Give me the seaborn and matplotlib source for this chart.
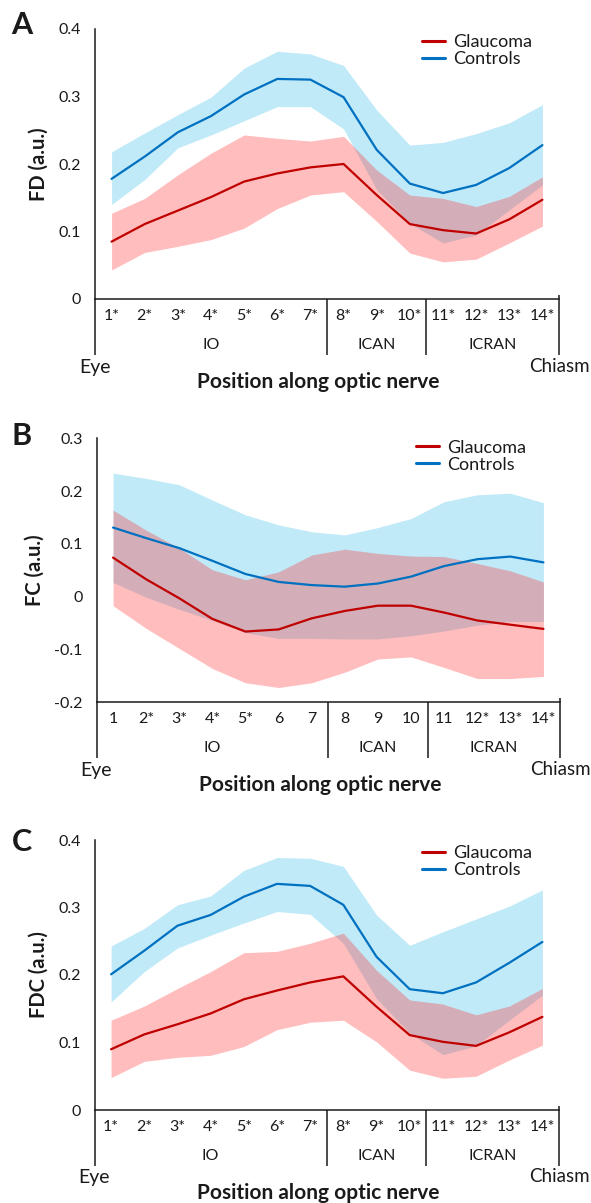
import numpy as np
import pandas as pd
import matplotlib
matplotlib.use("Agg")
import matplotlib.pyplot as plt
import matplotlib.transforms as mtransforms
import seaborn as sns

# ---------------- data ----------------
positions = list(range(1, 15))

# Panel A: FD
fd_glau_mean = [0.085, 0.111, 0.131, 0.151, 0.174, 0.186, 0.195, 0.200, 0.154, 0.111, 0.102, 0.097, 0.118, 0.147]
fd_glau_upper = [0.127, 0.149, 0.184, 0.216, 0.243, 0.238, 0.234, 0.241, 0.191, 0.154, 0.149, 0.137, 0.152, 0.181]
fd_glau_lower = [0.043, 0.069, 0.078, 0.088, 0.105, 0.134, 0.154, 0.159, 0.115, 0.068, 0.055, 0.059, 0.083, 0.108]
fd_ctrl_mean = [0.178, 0.211, 0.247, 0.271, 0.303, 0.326, 0.325, 0.299, 0.221, 0.171, 0.157, 0.169, 0.194, 0.228]
fd_ctrl_upper = [0.218, 0.246, 0.273, 0.299, 0.342, 0.367, 0.363, 0.346, 0.280, 0.228, 0.232, 0.245, 0.261, 0.288]
fd_ctrl_lower = [0.140, 0.177, 0.224, 0.243, 0.264, 0.285, 0.285, 0.252, 0.162, 0.112, 0.083, 0.095, 0.132, 0.169]

# Panel B: FC
fc_glau_mean = [0.074, 0.033, -0.003, -0.042, -0.066, -0.062, -0.041, -0.027, -0.017, -0.017, -0.030, -0.045, -0.053, -0.061]
fc_glau_upper = [0.164, 0.126, 0.092, 0.051, 0.032, 0.047, 0.079, 0.090, 0.082, 0.077, 0.076, 0.063, 0.049, 0.028]
fc_glau_lower = [-0.017, -0.060, -0.098, -0.136, -0.163, -0.172, -0.163, -0.143, -0.118, -0.114, -0.134, -0.155, -0.155, -0.151]
fc_ctrl_mean = [0.131, 0.111, 0.092, 0.068, 0.043, 0.028, 0.022, 0.019, 0.025, 0.038, 0.058, 0.071, 0.076, 0.065]
fc_ctrl_upper = [0.234, 0.224, 0.212, 0.183, 0.155, 0.136, 0.123, 0.117, 0.131, 0.148, 0.180, 0.193, 0.196, 0.178]
fc_ctrl_lower = [0.027, -0.001, -0.024, -0.045, -0.068, -0.079, -0.079, -0.080, -0.080, -0.074, -0.065, -0.054, -0.047, -0.047]

# Panel C: FDC
fdc_glau_mean = [0.090, 0.112, 0.127, 0.143, 0.164, 0.177, 0.189, 0.198, 0.153, 0.111, 0.101, 0.095, 0.115, 0.138]
fdc_glau_upper = [0.133, 0.154, 0.180, 0.205, 0.233, 0.235, 0.247, 0.262, 0.207, 0.163, 0.157, 0.141, 0.154, 0.180]
fdc_glau_lower = [0.048, 0.072, 0.078, 0.081, 0.094, 0.119, 0.130, 0.133, 0.101, 0.059, 0.047, 0.050, 0.074, 0.096]
fdc_ctrl_mean = [0.201, 0.236, 0.273, 0.289, 0.316, 0.335, 0.332, 0.304, 0.227, 0.179, 0.173, 0.189, 0.218, 0.249]
fdc_ctrl_upper = [0.243, 0.269, 0.304, 0.317, 0.355, 0.374, 0.373, 0.361, 0.289, 0.244, 0.264, 0.283, 0.302, 0.326]
fdc_ctrl_lower = [0.160, 0.205, 0.240, 0.259, 0.277, 0.294, 0.290, 0.247, 0.165, 0.114, 0.082, 0.095, 0.133, 0.170]

xlabels_a = ["1*", "2*", "3*", "4*", "5*", "6*", "7*", "8*", "9*", "10*", "11*", "12*", "13*", "14*"]
xlabels_b = ["1", "2*", "3*", "4*", "5*", "6", "7", "8", "9", "10", "11", "12*", "13*", "14*"]
xlabels_c = ["1*", "2*", "3*", "4*", "5*", "6*", "7*", "8*", "9*", "10*", "11*", "12*", "13*", "14*"]

regions = ["IO", "ICAN", "ICRAN"]
region_centers = [4, 9, 12.5]
region_bounds = [7.5, 10.5]

groups = ["Glaucoma", "Controls"]
line_colors = {"Glaucoma": "#C00000", "Controls": "#0070C0"}

# ---------------- style ----------------
sns.set_theme(style="white")
plt.rcParams["font.family"] = ["Lato", "DejaVu Sans"]
plt.rcParams["text.color"] = "#1a1a1a"
plt.rcParams["axes.labelcolor"] = "#1a1a1a"
plt.rcParams["xtick.color"] = "#1a1a1a"
plt.rcParams["ytick.color"] = "#1a1a1a"

W, H = 591, 1203
fig = plt.figure(figsize=(W / 100, H / 100), dpi=100)
AX_COLOR = "#1a1a1a"
LW_AX = 1.1
TICK_FS = 11.5


def make_panel(rect, letter, letter_xy, ylabel, yticks, yticklabels, ylim, xlabels,
               gm, gu, gl, cm, cu, cl, legend_anchor):
    ax = fig.add_axes(rect)
    h_px = rect[3] * H

    # bands
    ax.fill_between(positions, cl, cu, color="#C0EAF8", lw=0, zorder=1)
    ax.fill_between(positions, gl, gu, color="#FF2626", alpha=0.30, lw=0, zorder=2)

    df = pd.DataFrame({
        "Position": positions * 2,
        "Value": list(gm) + list(cm),
        "Group": ["Glaucoma"] * 14 + ["Controls"] * 14,
    })
    sns.lineplot(data=df, x="Position", y="Value", hue="Group", hue_order=groups,
                 palette=line_colors, linewidth=1.6, ax=ax, zorder=3, legend=True)

    leg_old = ax.get_legend()
    handles = leg_old.legend_handles
    labels = [t.get_text() for t in leg_old.get_texts()]
    leg_old.remove()
    for hnd in handles:
        hnd.set_linewidth(2.2)
    ax.legend(handles, labels, loc="upper left", bbox_to_anchor=legend_anchor,
              frameon=False, fontsize=13, handlelength=1.25, handletextpad=0.45,
              labelspacing=0.05, borderaxespad=0, borderpad=0)

    ax.set_xlim(0.5, 14.5)
    ax.set_ylim(*ylim)
    ax.set_yticks(yticks)
    ax.set_yticklabels(yticklabels, fontsize=TICK_FS)
    ax.set_xticks(positions)
    ax.set_xticklabels(xlabels, fontsize=TICK_FS)
    ax.tick_params(axis="x", direction="in", length=4, width=LW_AX, pad=7, color=AX_COLOR)
    ax.tick_params(axis="y", direction="out", length=6, width=LW_AX, pad=4, color=AX_COLOR)
    for s in ["top", "right"]:
        ax.spines[s].set_visible(False)
    for s in ["left", "bottom"]:
        ax.spines[s].set_color(AX_COLOR)
        ax.spines[s].set_linewidth(LW_AX)
    ax.set_xlabel("")
    ax.set_ylabel(ylabel, fontsize=14.5, fontweight="bold", labelpad=7)

    # extension lines below the axis
    trans = mtransforms.blended_transform_factory(ax.transData, ax.transAxes)
    depth = 56 / h_px
    for xv in [0.5] + region_bounds:
        ax.plot([xv, xv], [0, -depth], transform=trans, color=AX_COLOR, lw=LW_AX,
                clip_on=False, solid_capstyle="butt")
    ax.plot([14.5, 14.5], [4 / h_px, -depth], transform=trans, color=AX_COLOR, lw=LW_AX,
            clip_on=False, solid_capstyle="butt")

    for name, xc in zip(regions, region_centers):
        ax.text(xc, -46 / h_px, name, transform=trans, ha="center", va="center", fontsize=11.5)
    ax.text(0.5, -68 / h_px, "Eye", transform=trans, ha="center", va="center", fontsize=14)
    ax.text(14.5, -67 / h_px, "Chiasm", transform=trans, ha="center", va="center", fontsize=13.5)
    ax.text(7.25, -83 / h_px, "Position along optic nerve", transform=trans, ha="center",
            va="center", fontsize=15, fontweight="bold")

    fig.text(letter_xy[0] / W, 1 - letter_xy[1] / H, letter, fontsize=22, fontweight="bold",
             ha="center", va="center")
    ax.set_facecolor("none")
    return ax


make_panel([95 / W, 1 - 299 / H, 464 / W, 270 / H], "A", (22, 25), "FD (a.u.)",
           [0, 0.1, 0.2, 0.3, 0.4], ["0", "0.1", "0.2", "0.3", "0.4"], (0, 0.4), xlabels_a,
           fd_glau_mean, fd_glau_upper, fd_glau_lower,
           fd_ctrl_mean, fd_ctrl_upper, fd_ctrl_lower, (0.705, 0.98))

make_panel([96.5 / W, 1 - 702.3 / H, 463.5 / W, 264 / H], "B", (22, 436), "FC (a.u.)",
           [-0.2, -0.1, 0, 0.1, 0.2, 0.3], ["-0.2", "-0.1", "0", "0.1", "0.2", "0.3"], (-0.2, 0.3),
           xlabels_b,
           fc_glau_mean, fc_glau_upper, fc_glau_lower,
           fc_ctrl_mean, fc_ctrl_upper, fc_ctrl_lower, (0.690, 0.995))

make_panel([94.5 / W, 1 - 1110 / H, 464.5 / W, 270 / H], "C", (22, 842), "FDC (a.u.)",
           [0, 0.1, 0.2, 0.3, 0.4], ["0", "0.1", "0.2", "0.3", "0.4"], (0, 0.4), xlabels_c,
           fdc_glau_mean, fdc_glau_upper, fdc_glau_lower,
           fdc_ctrl_mean, fdc_ctrl_upper, fdc_ctrl_lower, (0.705, 0.98))

fig.savefig("out.png", dpi=100, facecolor="white")
